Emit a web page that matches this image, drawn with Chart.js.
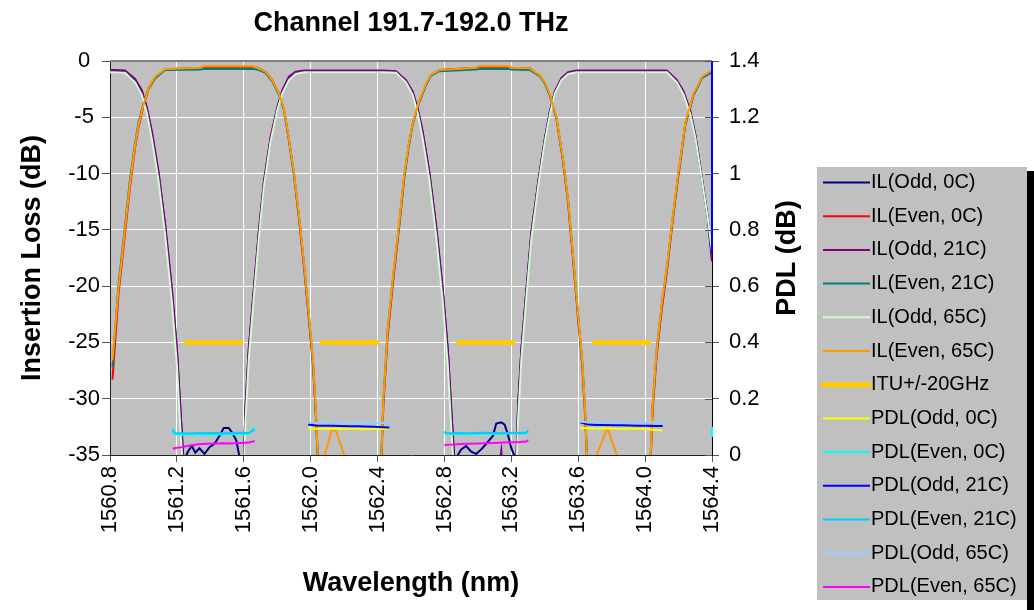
<!DOCTYPE html>
<html>
<head>
<meta charset="utf-8">
<title>Channel 191.7-192.0 THz</title>
<script src="https://cdn.jsdelivr.net/npm/chart.js@4.4.1/dist/chart.umd.min.js"></script>
<style>
  html, body { margin: 0; padding: 0; background: #fff; }
</style>
</head>
<body>
<canvas id="chart" width="1034" height="610"></canvas>
<script>
// Wavelength grid (nm) for the odd-channel IL traces
var oddWl = [
  1560.80, 1560.83, 1560.89, 1560.95, 1560.99, 1561.02, 1561.05, 1561.09, 1561.13, 1561.17, 1561.20, 1561.22, 1561.24,
  1561.27, 1561.29, 1561.31, 1561.335, 1561.365, 1561.395, 1561.425, 1561.455, 1561.48, 1561.51, 1561.53, 1561.555, 1561.575,
  1561.60, 1561.61, 1561.63, 1561.66, 1561.69, 1561.72, 1561.76, 1561.80, 1561.83, 1561.87, 1561.91, 1561.96,
  1562.44, 1562.51, 1562.57, 1562.61, 1562.64, 1562.67, 1562.71, 1562.75, 1562.79, 1562.82, 1562.84, 1562.86,
  1562.90, 1562.93, 1562.96, 1562.99, 1563.02, 1563.05, 1563.09, 1563.11, 1563.14, 1563.16, 1563.18, 1563.20,
  1563.23, 1563.24, 1563.26, 1563.29, 1563.32, 1563.36, 1563.40, 1563.43, 1563.46, 1563.50, 1563.54, 1563.59,
  1564.13, 1564.19, 1564.23, 1564.27, 1564.30, 1564.33, 1564.375, 1564.40
];
var ilOdd0C = [
  -0.9, -0.9, -0.95, -1.7, -2.7, -4.2, -6.4, -10.0, -14.7, -20.4, -25.7, -30.8, -35.5,
  -34.6, -34.2, -34.8, -34.4, -34.9, -34.3, -34.0, -33.3, -32.6, -32.6, -33.0, -33.7, -35.2,
  -35.5, -30.8, -25.7, -20.4, -15.3, -10.9, -7.0, -4.3, -2.8, -1.6, -1.05, -0.9,
  -0.9, -0.95, -1.8, -2.8, -4.3, -6.4, -10.0, -14.7, -20.4, -25.7, -30.8, -35.5,
  -34.5, -34.2, -34.7, -34.9, -34.5, -34.0, -33.3, -32.2, -32.1, -32.3, -33.2, -34.4,
  -35.5, -30.8, -25.7, -20.4, -15.3, -10.9, -7.0, -4.6, -2.8, -1.6, -1.05, -0.9,
  -0.9, -1.8, -2.8, -4.5, -6.6, -9.5, -14.0, -17.6
];
var ilOdd21C = [
  -0.8, -0.8, -0.85, -1.6, -2.6, -4.1, -6.2, -9.8, -14.5, -20.2, -25.5, -30.6, -36,
  -38, -38, -38, -38, -38, -38, -38, -38, -38, -38, -38, -38, -38,
  -36, -30.7, -25.5, -20.2, -15.1, -10.7, -6.8, -4.1, -2.6, -1.4, -0.95, -0.85,
  -0.85, -0.9, -1.7, -2.7, -4.2, -6.3, -9.9, -14.6, -20.3, -25.6, -30.7, -36,
  -38, -38, -38, -38, -38, -38, -38, -38, -34.6, -38, -38, -38,
  -36, -30.7, -25.6, -20.3, -15.2, -10.8, -6.9, -4.5, -2.7, -1.5, -1.0, -0.85,
  -0.85, -1.7, -2.7, -4.4, -6.5, -9.4, -13.9, -17.8
];
var ilOdd65C = [
  -1.0, -1.0, -1.05, -1.9, -3.0, -4.6, -6.9, -10.6, -15.5, -21.4, -27.0, -32.5, -37,
  -38, -38, -38, -38, -38, -38, -38, -38, -38, -38, -38, -38, -38,
  -37, -32, -26.5, -21, -15.8, -11.2, -7.2, -4.4, -2.9, -1.7, -1.15, -1.0,
  -1.0, -1.05, -1.9, -3.0, -4.6, -6.9, -10.6, -15.5, -21.4, -27.0, -32.5, -37,
  -38, -38, -38, -38, -38, -38, -38, -38, -38, -38, -38, -38,
  -37, -32, -26.5, -21, -15.8, -11.2, -7.2, -4.8, -2.9, -1.7, -1.15, -1.0,
  -1.0, -1.9, -3.0, -4.7, -6.8, -9.6, -14.0, -16.9
];

// Wavelength grid (nm) for the even-channel IL traces
var evenWl = [
  1560.815, 1560.85, 1560.89, 1560.92, 1560.95, 1560.97, 1561.00, 1561.03, 1561.07, 1561.13, 1561.34, 1561.36, 1561.65, 1561.68,
  1561.73, 1561.77, 1561.81, 1561.84, 1561.87, 1561.90, 1561.93, 1561.96, 1561.99, 1562.015, 1562.03, 1562.045,
  1562.06, 1562.085, 1562.125, 1562.15, 1562.20, 1562.22,
  1562.42, 1562.435, 1562.46, 1562.49, 1562.53, 1562.56, 1562.585, 1562.61, 1562.65, 1562.69, 1562.72, 1562.77,
  1562.99, 1563.01, 1563.18, 1563.20,
  1563.31, 1563.37, 1563.40, 1563.43, 1563.47, 1563.51, 1563.54, 1563.57, 1563.60, 1563.625, 1563.64, 1563.655,
  1563.69, 1563.71, 1563.775, 1563.83, 1563.85,
  1564.03, 1564.045, 1564.07, 1564.10, 1564.13, 1564.16, 1564.19, 1564.24, 1564.29, 1564.34, 1564.40
];
var ilEven0C = [
  -28.3, -20.8, -15.3, -11.1, -7.7, -5.9, -4.0, -2.5, -1.5, -0.75, -0.6, -0.5, -0.5, -0.6,
  -0.95, -1.7, -2.9, -4.3, -7.0, -10.1, -14.0, -18.3, -23.0, -27.3, -31.2, -36,
  -38, -38, -38, -38, -38, -38,
  -36.5, -30.5, -24.5, -20, -14.6, -10.3, -7.7, -5.6, -3.6, -2.1, -1.25, -0.8,
  -0.6, -0.5, -0.5, -0.6,
  -0.65, -1.3, -1.95, -3.0, -5.1, -9.0, -12.7, -17.8, -23.0, -27.3, -31.2, -36,
  -38, -38, -38, -38, -38,
  -36.5, -31, -26, -22, -18.7, -14.8, -11.2, -5.7, -3.0, -1.5, -0.85
];
var ilEven21C = [
  -27.2, -20.0, -14.6, -10.5, -7.3, -5.5, -3.8, -2.4, -1.5, -0.8, -0.75, -0.7, -0.7, -0.75,
  -1.05, -1.8, -3.0, -4.3, -7.0, -10.0, -13.8, -18.0, -22.8, -27.0, -31.0, -36,
  -38, -38, -38, -38, -38, -38,
  -36, -30, -24, -19.6, -14.4, -10.2, -7.6, -5.6, -3.6, -2.1, -1.3, -0.9,
  -0.75, -0.7, -0.7, -0.75,
  -0.8, -1.35, -2.0, -3.0, -5.1, -8.9, -12.5, -17.5, -22.7, -26.9, -30.8, -36,
  -38, -38, -38, -38, -38,
  -36, -30.6, -25.6, -21.6, -18.4, -14.6, -11.0, -5.6, -3.0, -1.5, -1.0
];
var ilEven65C = [
  -26.6, -20.3, -14.9, -10.8, -7.5, -5.7, -3.9, -2.4, -1.4, -0.7, -0.6, -0.45, -0.45, -0.6,
  -0.95, -1.7, -2.9, -4.2, -6.9, -9.9, -13.7, -17.9, -22.6, -26.8, -30.7, -36,
  -38, -35, -32.8, -32.8, -35, -38,
  -36, -30, -24, -19.5, -14.2, -10, -7.5, -5.5, -3.5, -2, -1.2, -0.8,
  -0.6, -0.45, -0.45, -0.6,
  -0.65, -1.25, -1.9, -2.9, -5, -8.8, -12.4, -17.4, -22.6, -26.8, -30.7, -36,
  -38, -35, -32.6, -35, -38,
  -36, -30.5, -25.5, -21.5, -18.3, -14.5, -10.9, -5.5, -2.9, -1.4, -0.8
];

// ITU grid +/-20 GHz windows (nm) at the -25 dB marker level
var ituStart = [1561.257, 1562.070, 1562.884, 1563.698];
var ituEnd = [1561.583, 1562.396, 1563.210, 1564.024];
var ituLevel = -25;

// PDL traces (dB), null = gap between passbands
var pdlOddWl = [
  1561.985, 1562.03, 1562.08, 1562.13, 1562.18, 1562.23, 1562.28, 1562.33, 1562.38, 1562.43, 1562.47,
  1563.00,
  1563.61, 1563.66, 1563.71, 1563.76, 1563.81, 1563.86, 1563.91, 1563.96, 1564.01, 1564.06, 1564.105,
  1564.25,
  1564.40, 1564.40
];
var pdlOdd0C = [
  0.094, 0.093, 0.094, 0.093, 0.093, 0.094, 0.093, 0.092, 0.093, 0.092, 0.093,
  null,
  0.096, 0.095, 0.094, 0.095, 0.094, 0.093, 0.094, 0.093, 0.092, 0.089, 0.088,
  null,
  null, null
];
var pdlOdd21C = [
  0.108, 0.105, 0.104, 0.104, 0.103, 0.102, 0.102, 0.101, 0.100, 0.099, 0.098,
  null,
  0.116, 0.108, 0.107, 0.107, 0.106, 0.106, 0.105, 0.104, 0.104, 0.103, 0.103,
  null,
  0.72, 1.4
];
var pdlOdd65C = [
  0.116, 0.114, 0.115, 0.113, 0.114, 0.115, 0.113, 0.114, 0.113, 0.115, 0.114,
  null,
  0.118, 0.116, 0.117, 0.115, 0.116, 0.117, 0.115, 0.116, 0.114, 0.116, 0.115,
  null,
  null, null
];
var pdlEvenWl = [
  1561.175, 1561.185, 1561.23, 1561.28, 1561.33, 1561.38, 1561.43, 1561.48, 1561.53, 1561.58, 1561.63, 1561.665,
  1562.20,
  1562.80, 1562.81, 1562.85, 1562.90, 1562.95, 1563.00, 1563.05, 1563.10, 1563.15, 1563.20, 1563.25, 1563.29, 1563.30,
  1563.90,
  1564.40, 1564.40
];
var pdlEven0C = [
  0.095, 0.074, 0.072, 0.073, 0.073, 0.074, 0.073, 0.074, 0.075, 0.074, 0.075, 0.098,
  null,
  0.085, 0.075, 0.074, 0.074, 0.075, 0.074, 0.076, 0.075, 0.075, 0.077, 0.076, 0.075, 0.09,
  null,
  0.064, 0.1
];
var pdlEven21C = [
  0.09, 0.078, 0.077, 0.076, 0.078, 0.077, 0.078, 0.077, 0.078, 0.079, 0.078, 0.09,
  null,
  0.08, 0.078, 0.077, 0.078, 0.077, 0.078, 0.079, 0.078, 0.077, 0.079, 0.078, 0.08, 0.085,
  null,
  null, null
];
var pdlEven65C = [
  0.022, 0.024, 0.028, 0.034, 0.038, 0.040, 0.041, 0.042, 0.041, 0.043, 0.044, 0.05,
  null,
  0.034, 0.036, 0.037, 0.039, 0.040, 0.041, 0.042, 0.043, 0.044, 0.045, 0.046, 0.048, 0.053,
  null,
  null, null
];

// Axis ticks
var xTicks = [1560.8, 1561.2, 1561.6, 1562.0, 1562.4, 1562.8, 1563.2, 1563.6, 1564.0, 1564.4];
var ilTicks = [-35, -30, -25, -20, -15, -10, -5, 0];
var pdlTicks = [0, 0.2, 0.4, 0.6, 0.8, 1.0, 1.2, 1.4];

function pts(xs, ys) {
  return xs.map(function (x, i) { return { x: x, y: ys[i] }; });
}

function ituPts() {
  var out = [];
  ituStart.forEach(function (s, i) {
    out.push({ x: s, y: ituLevel }, { x: ituEnd[i], y: ituLevel }, { x: ituEnd[i] + 0.01, y: null });
  });
  return out;
}

function series(label, color, data, axis, width) {
  return {
    label: label, data: data, yAxisID: axis,
    borderColor: color, backgroundColor: color,
    borderWidth: width || 2, pointRadius: 0, tension: 0,
    fill: false, spanGaps: false
  };
}

var datasets = [
  series('IL(Odd, 0C)', '#000080', pts(oddWl, ilOdd0C), 'y'),
  series('IL(Even, 0C)', '#FF0000', pts(evenWl, ilEven0C), 'y'),
  series('IL(Odd, 21C)', '#800080', pts(oddWl, ilOdd21C), 'y'),
  series('IL(Even, 21C)', '#008080', pts(evenWl, ilEven21C), 'y'),
  series('IL(Odd, 65C)', '#CCFFCC', pts(oddWl, ilOdd65C), 'y'),
  series('IL(Even, 65C)', '#FF9900', pts(evenWl, ilEven65C), 'y'),
  series('ITU+/-20GHz', '#FFCC00', ituPts(), 'y', 5),
  series('PDL(Odd, 0C)', '#FFFF00', pts(pdlOddWl, pdlOdd0C), 'y1'),
  series('PDL(Even, 0C)', '#00FFFF', pts(pdlEvenWl, pdlEven0C), 'y1'),
  series('PDL(Odd, 21C)', '#0000FF', pts(pdlOddWl, pdlOdd21C), 'y1'),
  series('PDL(Even, 21C)', '#00CCFF', pts(pdlEvenWl, pdlEven21C), 'y1'),
  series('PDL(Odd, 65C)', '#99CCFF', pts(pdlOddWl, pdlOdd65C), 'y1'),
  series('PDL(Even, 65C)', '#FF00FF', pts(pdlEvenWl, pdlEven65C), 'y1')
];
datasets[6].borderCapStyle = 'round';
datasets[8].clip = 3;
datasets[9].clip = 3;
// later series sit on top, like the spreadsheet draws them
datasets.forEach(function (ds, i) { ds.order = datasets.length - i; });

var FONT = '"Liberation Sans", Arial, sans-serif';
Chart.defaults.font.family = FONT;
Chart.defaults.color = '#000';

// grey plot area, top frame, right axis title and the boxed legend
var excelFrame = {
  id: 'excelFrame',
  beforeDraw: function (chart) {
    var a = chart.chartArea, ctx = chart.ctx;
    ctx.save();
    ctx.fillStyle = '#C0C0C0';
    ctx.fillRect(a.left, a.top, a.right - a.left, a.bottom - a.top);
    ctx.restore();
  },
  afterDraw: function (chart) {
    var a = chart.chartArea, ctx = chart.ctx;
    ctx.save();
    ctx.strokeStyle = '#808080';
    ctx.lineWidth = 2;
    ctx.beginPath();
    ctx.moveTo(a.left, a.top);
    ctx.lineTo(a.right, a.top);
    ctx.stroke();

    // inner half of the crossing ticks on the PDL axis
    var y1 = chart.scales.y1;
    ctx.strokeStyle = '#555';
    ctx.lineWidth = 1;
    y1.ticks.forEach(function (t) {
      var py = Math.round(y1.getPixelForValue(t.value)) + 0.5;
      ctx.beginPath();
      ctx.moveTo(a.right - 7, py);
      ctx.lineTo(a.right, py);
      ctx.stroke();
    });
    ctx.restore();

    // PDL axis title reads bottom to top
    ctx.save();
    ctx.translate(788, (a.top + a.bottom) / 2);
    ctx.rotate(-Math.PI / 2);
    ctx.font = 'bold 27px ' + FONT;
    ctx.fillStyle = '#000';
    ctx.textAlign = 'center';
    ctx.textBaseline = 'middle';
    ctx.fillText('PDL (dB)', 0, 0);
    ctx.restore();

    // legend box with shadow
    var lx = 817, ly = 167, lw = 210, lh = 433;
    ctx.save();
    ctx.fillStyle = '#000';
    ctx.fillRect(lx + lw, ly + 4, 8, 610 - ly);
    ctx.fillStyle = '#C0C0C0';
    ctx.fillRect(lx, ly, lw, lh);
    ctx.font = '20px ' + FONT;
    ctx.textAlign = 'left';
    ctx.textBaseline = 'middle';
    chart.data.datasets.forEach(function (ds, i) {
      var y = 182.5 + i * 33.7;
      ctx.strokeStyle = ds.borderColor;
      ctx.lineWidth = ds.borderWidth;
      ctx.lineCap = ds.borderCapStyle === 'round' ? 'round' : 'butt';
      ctx.beginPath();
      ctx.moveTo(823, y);
      ctx.lineTo(870, y);
      ctx.stroke();
      ctx.fillStyle = '#000';
      ctx.fillText(ds.label, 871, y);
    });
    ctx.restore();
  }
};

new Chart(document.getElementById('chart'), {
  type: 'line',
  data: { datasets: datasets },
  options: {
    responsive: false,
    animation: false,
    events: [],
    layout: { padding: { left: 0, right: 222, top: 0, bottom: 0 } },
    plugins: {
      legend: { display: false },
      tooltip: { enabled: false },
      title: {
        display: true,
        text: 'Channel 191.7-192.0 THz',
        fullSize: false,
        color: '#000',
        font: { size: 27, weight: 'bold' },
        padding: { top: 7, bottom: 21.6 }
      }
    },
    scales: {
      x: {
        type: 'linear',
        min: 1560.8,
        max: 1564.4,
        afterBuildTicks: function (s) { s.ticks = xTicks.map(function (v) { return { value: v }; }); },
        afterFit: function (s) { s.height = 155; },
        ticks: {
          autoSkip: false, minRotation: 90, maxRotation: 90, padding: 4,
          font: { size: 22 },
          callback: function (v) { return Number(v).toFixed(1); }
        },
        grid: { color: '#FFFFFF', lineWidth: 1, tickColor: '#555', tickLength: 7 },
        border: { color: '#222', width: 1 },
        title: {
          display: true, text: 'Wavelength (nm)',
          font: { size: 27, weight: 'bold' },
          padding: { top: 0, bottom: 10 }
        }
      },
      y: {
        position: 'left',
        min: -35,
        max: 0,
        afterBuildTicks: function (s) { s.ticks = ilTicks.map(function (v) { return { value: v }; }); },
        afterFit: function (s) { s.width = 110; },
        ticks: {
          crossAlign: 'center', padding: 2,
          font: { size: 22 },
          callback: function (v) { return String(v); }
        },
        grid: { color: '#FFFFFF', lineWidth: 1, tickColor: '#555', tickLength: 8 },
        border: { color: '#222', width: 1 },
        title: {
          display: true, text: 'Insertion Loss (dB)',
          font: { size: 27, weight: 'bold' },
          padding: { top: 16, bottom: 0 }
        }
      },
      y1: {
        position: 'right',
        min: 0,
        max: 1.4,
        afterBuildTicks: function (s) { s.ticks = pdlTicks.map(function (v) { return { value: v }; }); },
        afterFit: function (s) { s.width = 100; },
        ticks: {
          padding: 10,
          font: { size: 22 },
          callback: function (v) { return String(+Number(v).toFixed(1)); }
        },
        grid: { drawOnChartArea: false, tickColor: '#555', tickLength: 7 },
        border: { color: '#000', width: 1 }
      }
    }
  },
  plugins: [excelFrame]
});
</script>
</body>
</html>
